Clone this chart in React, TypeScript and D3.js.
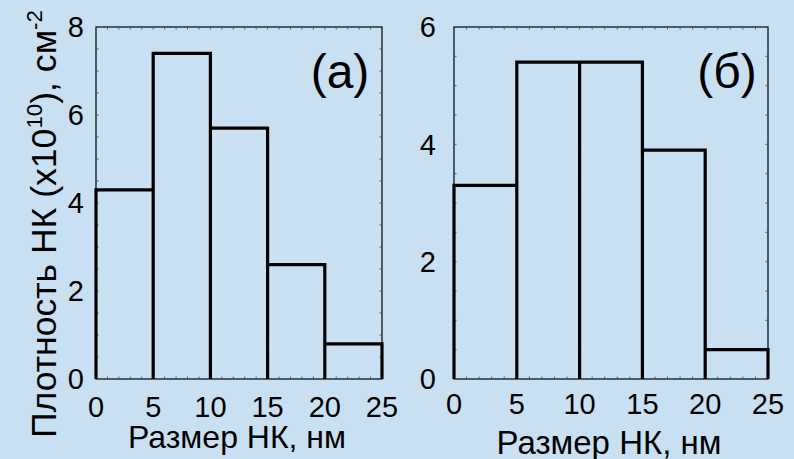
import React from "react";
import * as d3 from "d3";

// Size bins (nm) and nanocrystal densities (x10^10 cm^-2)
const binEdges = [0, 5, 10, 15, 20, 25];
const densityA = [4.3, 7.4, 5.7, 2.6, 0.8];
const densityB = [3.3, 5.4, 5.4, 3.9, 0.5];
const xTickLabels = [0, 5, 10, 15, 20, 25];
const yTicksA = [0, 2, 4, 6, 8];
const yTicksB = [0, 2, 4, 6];
const panelTags = ["(а)", "(б)"];

const W = 794;
const H = 459;
const BG = "#c9e0f3";
const FONT = "'Liberation Sans', Arial, Helvetica, sans-serif";

type PanelProps = {
  left: number;
  right: number;
  top: number;
  bottom: number;
  yMax: number;
  values: number[];
  yTicks: number[];
  tag: string;
  tagX: number;
  yLabelRight: number;
  xTickBaseline: number;
  xLabelBaseline: number;
  xLabelSize: number;
};

function Panel(p: PanelProps) {
  const x = d3.scaleLinear().domain([0, 25]).range([p.left, p.right]);
  const y = d3.scaleLinear().domain([0, p.yMax]).range([p.bottom, p.top]);
  const minorX = d3.range(1, 25, 1);
  const minorY = d3.range(0.5, p.yMax, 0.5);
  const tickLen = 2.5;

  const barPath = p.values
    .map((v, i) => {
      const x0 = x(binEdges[i]);
      const x1 = x(binEdges[i + 1]);
      return `M${x0},${y(0)}V${y(v)}H${x1}V${y(0)}`;
    })
    .join("");

  return (
    <g>
      {/* frame */}
      <rect
        x={p.left}
        y={p.top}
        width={p.right - p.left}
        height={p.bottom - p.top}
        fill="none"
        stroke="#000"
        strokeWidth={1.2}
      />
      {/* minor ticks on all four sides */}
      {minorX.map((t) => (
        <g key={"mx" + t} stroke="#555" strokeWidth={1}>
          <line x1={x(t)} x2={x(t)} y1={p.bottom} y2={p.bottom - tickLen} />
          <line x1={x(t)} x2={x(t)} y1={p.top} y2={p.top + tickLen} />
        </g>
      ))}
      {minorY.map((t) => (
        <g key={"my" + t} stroke="#555" strokeWidth={1}>
          <line x1={p.left} x2={p.left + tickLen} y1={y(t)} y2={y(t)} />
          <line x1={p.right} x2={p.right - tickLen} y1={y(t)} y2={y(t)} />
        </g>
      ))}
      {/* histogram bars */}
      <path d={barPath} fill="none" stroke="#000" strokeWidth={3.2} strokeLinejoin="miter" />
      {/* x tick labels */}
      {xTickLabels.map((t) => (
        <text
          key={"xt" + t}
          x={x(t)}
          y={p.xTickBaseline}
          textAnchor="middle"
          fontSize={29}
          fontFamily={FONT}
          fill="#000"
        >
          {t}
        </text>
      ))}
      {/* y tick labels */}
      {p.yTicks.map((t) => (
        <text
          key={"yt" + t}
          x={p.yLabelRight}
          y={y(t)}
          dy="0.36em"
          textAnchor="end"
          fontSize={29}
          fontFamily={FONT}
          fill="#000"
        >
          {t}
        </text>
      ))}
      {/* x axis title */}
      <text
        x={(p.left + p.right) / 2 - 2}
        y={p.xLabelBaseline}
        textAnchor="middle"
        fontSize={p.xLabelSize}
        fontFamily={FONT}
        fill="#000"
      >
        Размер НК, нм
      </text>
      {/* panel tag */}
      <text x={p.tagX} y={88} textAnchor="middle" fontSize={48} fontFamily={FONT} fill="#000">
        {p.tag}
      </text>
    </g>
  );
}

export default function App() {
  return (
    <svg
      width={W}
      height={H}
      viewBox={`0 0 ${W} ${H}`}
      style={{ position: "fixed", left: 0, top: 0, display: "block" }}
    >
      <rect x={0} y={0} width={W} height={H} fill={BG} />
      <Panel
        left={96}
        right={382}
        top={27}
        bottom={379}
        yMax={8}
        values={densityA}
        yTicks={yTicksA}
        tag={panelTags[0]}
        tagX={340}
        yLabelRight={84}
        xTickBaseline={417}
        xLabelBaseline={448}
        xLabelSize={32}
      />
      <Panel
        left={454}
        right={768}
        top={27}
        bottom={379}
        yMax={6}
        values={densityB}
        yTicks={yTicksB}
        tag={panelTags[1]}
        tagX={727}
        yLabelRight={436}
        xTickBaseline={414}
        xLabelBaseline={454}
        xLabelSize={33}
      />
      {/* y axis title */}
      <text
        transform="translate(56,224) rotate(-90)"
        textAnchor="middle"
        fontSize={35}
        fontFamily={FONT}
        fill="#000"
        textLength={428}
        lengthAdjust="spacingAndGlyphs"
      >
        Плотность НК (x10
        <tspan dy={-14} fontSize={22}>
          10
        </tspan>
        <tspan dy={14}>), см</tspan>
        <tspan dy={-14} fontSize={22}>
          -2
        </tspan>
      </text>
    </svg>
  );
}
